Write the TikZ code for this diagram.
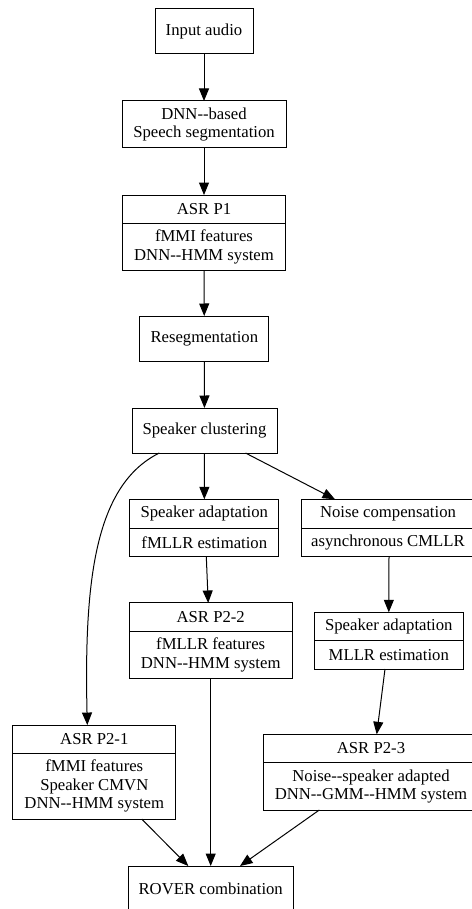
\documentclass[tikz,border=0pt]{standalone}
\usepackage{fontspec}
\setmainfont{Liberation Serif}
\usetikzlibrary{arrows.meta,positioning}
\newcommand{\gv}{\fontsize{16.7}{18.7}\selectfont}
\tikzset{
  box/.style={draw, line width=1pt, outer sep=0pt, inner sep=1pt,
              align=center, font=\gv},
  arr/.style={line width=1pt, -{Triangle[length=12.5pt,width=10pt]}}
}

\begin{document}
\begin{tikzpicture}[x=1pt,y=-1pt]
   \useasboundingbox (0,0) rectangle (471,909);
   % plain boxes and record boxes
   \node[box, minimum width=98pt,  minimum height=45pt] (in)    at (204,31.5)    {Input audio};
   \node[box, minimum width=164pt, minimum height=47pt] (seg)   at (204,124.5)   {DNN-{}-based\\Speech segmentation};
   \node[box, minimum width=163pt, minimum height=28.3pt] (p1)  at (204,209.2)   {ASR P1};
   \node[box, minimum width=163pt, minimum height=47pt, below=0pt of p1] (p1b)   {fMMI features\\DNN-{}-HMM system};
   \node[box, minimum width=129pt, minimum height=45pt] (reseg) at (204.3,338.5) {Resegmentation};
   \node[box, minimum width=145pt, minimum height=45pt] (clus)  at (204.5,430.5) {Speaker clustering};
   \node[box, minimum width=149pt, minimum height=29pt] (sa1)   at (204.3,513.8) {Speaker adaptation};
   \node[box, minimum width=149pt, minimum height=28.3pt, below=0pt of sa1] (sa1b) {fMLLR estimation};
   \node[box, minimum width=174pt, minimum height=29pt] (noise) at (388,513.8)   {Noise compensation};
   \node[box, minimum width=174pt, minimum height=28.3pt, below=0pt of noise] (noiseb) {asynchronous CMLLR};
   \node[box, minimum width=163pt, minimum height=28.7pt] (p22) at (210.7,617.3) {ASR P2-2};
   \node[box, minimum width=163pt, minimum height=46.7pt, below=0pt of p22] (p22b) {fMLLR features\\DNN-{}-HMM system};
   \node[box, minimum width=149pt, minimum height=28.4pt] (sa2) at (388.8,626.5) {Speaker adaptation};
   \node[box, minimum width=149pt, minimum height=28.3pt, below=0pt of sa2] (sa2b) {MLLR estimation};
   \node[box, minimum width=163pt, minimum height=28.3pt] (p21) at (94.3,739.2)  {ASR P2-1};
   \node[box, minimum width=163pt, minimum height=65.7pt, below=0pt of p21] (p21b) {fMMI features\\Speaker CMVN\\DNN-{}-HMM system};
   \node[box, minimum width=216pt, minimum height=28.4pt] (p23) at (371,748.5)   {ASR P2-3};
   \node[box, minimum width=216pt, minimum height=47.3pt, below=0pt of p23] (p23b) {Noise-{}-speaker adapted\\DNN-{}-GMM-{}-HMM system};
   \node[box, minimum width=165pt, minimum height=45pt] (rover) at (210.7,888.5) {ROVER combination};
   % connectors
   \draw[arr] (in) -- (seg);
   \draw[arr] (seg) -- (p1);
   \draw[arr] (p1b) -- (reseg);
   \draw[arr] (reseg) -- (clus);
   \draw[arr] (clus) -- (sa1);
   \draw[arr] ([xshift=41pt]clus.south) -- ([xshift=-53pt]noise.north);
   \draw[arr] (clus) .. controls (95,485) and (84,580) .. ([xshift=-7pt]p21.north);
   \draw[arr] ([xshift=2pt]sa1b.south) -- ([xshift=-2.5pt]p22.north);
   \draw[arr] ([xshift=1pt]noiseb.south) -- (sa2.north);
   \draw[arr] ([xshift=-3.8pt]sa2b.south) -- ([xshift=5.7pt]p23.north);
   \draw[arr] (p22b) -- (rover);
   \draw[arr] ([xshift=47.4pt]p21b.south) -- ([xshift=-22.4pt]rover.north);
   \draw[arr] ([xshift=-51.7pt]p23b.south) -- ([xshift=29.3pt]rover.north);
\end{tikzpicture}
\end{document}
